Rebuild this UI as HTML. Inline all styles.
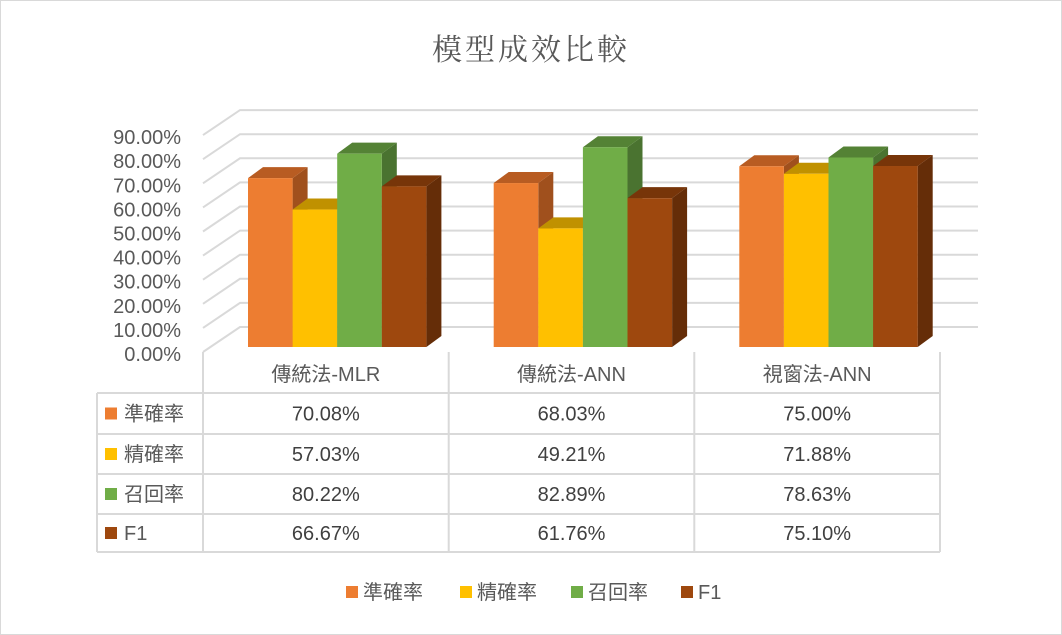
<!DOCTYPE html>
<html><head><meta charset="utf-8"><style>
body{margin:0;background:#fff}
svg{display:block;font-family:"Liberation Sans","Noto Sans CJK TC",sans-serif}
</style></head><body>
<svg id="c" width="1062" height="635" viewBox="0 0 1062 635">
<rect x="0.5" y="0.5" width="1061" height="634" fill="#fff" stroke="#d9d9d9"/>
<text x="531" y="60" text-anchor="middle" font-size="30" fill="#595959" letter-spacing="3" font-family="'Noto Serif CJK SC','Noto Sans CJK TC',serif">模型成效比較</text>
<g id="grid"></g><g id="bars"></g><g id="table"></g><g id="legend"></g>
</svg>
<script>
const categories=["傳統法-MLR","傳統法-ANN","視窗法-ANN"];
const seriesNames=["準確率","精確率","召回率","F1"];
const accuracy=[70.08,68.03,75.00];
const precision=[57.03,49.21,71.88];
const recall=[80.22,82.89,78.63];
const f1=[66.67,61.76,75.10];
const yTicks=[0,10,20,30,40,50,60,70,80,90];
const series=[accuracy,precision,recall,f1];
const front=["#ed7d31","#ffc000","#70ad47","#9e480e"];
const topC=["#b85c22","#c09100","#548235","#773509"];
const sideC=["#a0501d","#a67c00","#4a7330","#652d08"];
const NS="http://www.w3.org/2000/svg";
function mk(t,a,p){const e=document.createElementNS(NS,t);for(const k in a)e.setAttribute(k,a[k]);p.appendChild(e);return e;}
const colX=[203,448.7,694.3,940];
const yF=v=>347-v*2.41;
const yB=v=>327-v*2.41;
const grid=document.getElementById('grid');
yTicks.forEach(t=>{
 const l=mk('polyline',{points:`203,${yB(t)+25} 240,${yB(t)} 978,${yB(t)}`,fill:'none',stroke:'#d9d9d9','stroke-width':2},grid);
 
 
 const tx=mk('text',{x:181,y:yF(t)+14,'text-anchor':'end','font-size':20,fill:'#595959'},grid);
 tx.textContent=t.toFixed(2)+'%';
 
 
});
const bars=document.getElementById('bars');
const bw=44.6,dx=15,dy=-11;
categories.forEach((c,i)=>{
 series.forEach((s,j)=>{
  const x=colX[i]+45+j*bw, y=yF(s[i]), b=347;
  const g=mk('g',{},bars);
  
  
  mk('polygon',{points:`${x+bw},${y} ${x+bw+dx},${y+dy} ${x+bw+dx},${b+dy} ${x+bw},${b}`,fill:sideC[j]},g);
  mk('polygon',{points:`${x},${y} ${x+dx},${y+dy} ${x+bw+dx},${y+dy} ${x+bw},${y}`,fill:topC[j]},g);
  mk('rect',{x:x,y:y,width:bw,height:b-y,fill:front[j]},g);
 });
});
const tb=document.getElementById('table');
const rowY=[393,434,474,514,552];
const ln=(a,b,c,d)=>{const l=mk('line',{x1:a,y1:b,x2:c,y2:d,stroke:'#d9d9d9','stroke-width':2},tb);};
rowY.forEach(y=>ln(97,y,940,y));
ln(97,393,97,552);
colX.forEach(x=>ln(x,352,x,552));
categories.forEach((c,i)=>{
 const t=mk('text',{x:(colX[i]+colX[i+1])/2,y:381,'text-anchor':'middle','font-size':20,fill:'#595959'},tb);
 t.textContent=c;
 
 
});
series.forEach((s,j)=>{
 const cy=(rowY[j]+rowY[j+1])/2;
 mk('rect',{x:105,y:cy-6,width:12,height:12,fill:front[j]},tb);
 const n=mk('text',{x:124,y:cy+7,'font-size':20,fill:'#595959'},tb);
 n.textContent=seriesNames[j];
 
 
 s.forEach((v,i)=>{
  const t=mk('text',{x:(colX[i]+colX[i+1])/2,y:cy+7,'text-anchor':'middle','font-size':20,fill:'#404040'},tb);
  t.textContent=v.toFixed(2)+'%';
  
  
 });
});
const lg=document.getElementById('legend');
const lx=[346,460,571,681];
seriesNames.forEach((n,j)=>{
 const g=mk('g',{},lg);
 
 
 mk('rect',{x:lx[j],y:586,width:12,height:12,fill:front[j]},g);
 const t=mk('text',{x:lx[j]+17,y:599,'font-size':20,fill:'#595959'},g);
 t.textContent=n;
});
</script>
</body></html>
